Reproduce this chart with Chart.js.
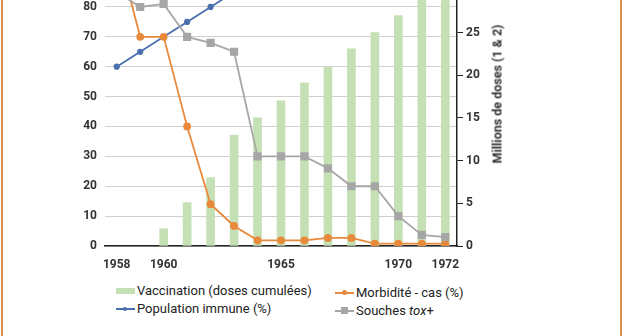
<!DOCTYPE html>
<html>
<head>
<meta charset="utf-8">
<script src="https://cdn.jsdelivr.net/npm/chart.js@4.4.1/dist/chart.umd.min.js"></script>
<style>
    body { margin: 0; background: #fff; width: 625px; height: 336px; overflow: hidden; position: relative; font-family: Roboto, sans-serif; }
    #wrap { position: absolute; left: 0; top: -68px; width: 625px; height: 344px; }
    .edge { position: absolute; top: 0; width: 2px; height: 336px; background: #d8904a; }
    .leg { position: absolute; font-size: 13px; color: #222; white-space: nowrap; line-height: 16px; }
    .sym { display: inline-block; position: relative; width: 19px; height: 16px; vertical-align: top; margin-right: 2px; }
    .sym .ln { position: absolute; left: 0; right: 0; top: 7px; height: 2px; }
    .sym .mk { position: absolute; }
    #titreDroite { position: absolute; left: 497px; top: 94px; transform: translate(-50%, -50%) rotate(-90deg);
        font-size: 12.5px; font-weight: bold; color: #333; white-space: nowrap; }
</style>
</head>
<body>
<div class="edge" style="left:1px"></div>
<div class="edge" style="left:620px"></div>
<div id="wrap"><canvas id="graphic-diphterie"></canvas></div>
<div id="titreDroite">Millions de doses (1 &amp; 2)</div>

<div class="leg" style="left:116px; top:283px">
    <span class="sym"><span class="ln" style="top:5px;height:6px;background:#c5e0b4"></span></span>Vaccination (doses cumulées)
</div>
<div class="leg" style="left:116px; top:301px">
    <span class="sym"><span class="ln" style="background:#4a6fae"></span><span class="mk" style="left:7px;top:6px;width:4px;height:4px;border-radius:2px;background:#4a6fae"></span></span>Population immune (%)
</div>
<div class="leg" style="left:335px; top:285px">
    <span class="sym"><span class="ln" style="background:#e8893c"></span><span class="mk" style="left:7px;top:5px;width:5px;height:5px;border-radius:3px;background:#e8893c"></span></span>Morbidité - cas (%)
</div>
<div class="leg" style="left:335px; top:303px">
    <span class="sym"><span class="ln" style="background:#a6a6a6"></span><span class="mk" style="left:6px;top:4px;width:7px;height:7px;background:#a6a6a6"></span></span>Souches <i>tox</i>+
</div>

<script>
const years = ['1958', '1959', '1960', '1961', '1962', '1963', '1964', '1965', '1966', '1967', '1968', '1969', '1970', '1971', '1972'];
const shownYears = ['1958', '1960', '1965', '1970', '1972'];

// millions de doses (axe droit)
const vaccination = [null, null, 2.0, 5.1, 8.0, 13.0, 15.0, 17.0, 19.1, 21.0, 23.1, 25.0, 27.0, 29.0, 31.0];
// pourcentages (axe gauche)
const populationImmune = [60, 65, 70, 75, 80, 85, 88, 90, 92, 93, 94, 95, 96, 97, 98];
const morbidite = [100, 70, 70, 40, 14, 6.7, 1.9, 1.9, 1.9, 2.7, 2.7, 0.8, 0.8, 0.8, 0.8];
const souchesTox = [85, 80, 81, 70, 68, 65, 30, 30, 30, 26, 20, 20, 10, 3.7, 3];

const leftTicks = [0, 10, 20, 30, 40, 50, 60, 70, 80, 90, 100];
const rightTicks = [0, 5, 10, 15, 20, 25, 30, 35];

const tickFont = { family: 'Roboto', size: 12, weight: 'bold' };

const ctx = document.getElementById('graphic-diphterie');

var chartDiphterie = new Chart(ctx, {
    type: 'bar',
    data: {
        labels: years,
        datasets: [
            {
                label: 'Vaccination (doses cumulées)',
                data: vaccination,
                backgroundColor: '#c5e0b4',
                barThickness: 8,
                yAxisID: 'y1',
                order: 10
            },
            {
                label: 'Population immune (%)',
                type: 'line',
                data: populationImmune,
                borderColor: '#4a6fae',
                backgroundColor: '#4a6fae',
                borderWidth: 1.8,
                pointRadius: 2.2,
                yAxisID: 'y',
                order: 3
            },
            {
                label: 'Morbidité - cas (%)',
                type: 'line',
                data: morbidite,
                borderColor: '#e8893c',
                backgroundColor: '#e8893c',
                borderWidth: 1.8,
                pointRadius: 3,
                yAxisID: 'y',
                order: 2
            },
            {
                label: 'Souches tox+',
                type: 'line',
                data: souchesTox,
                borderColor: '#a6a6a6',
                backgroundColor: '#a6a6a6',
                borderWidth: 1.8,
                pointStyle: 'rect',
                pointRadius: 4.5,
                yAxisID: 'y',
                order: 1
            }
        ]
    },
    options: {
        responsive: true,
        maintainAspectRatio: false,
        animation: false,
        layout: { padding: { top: 10, right: 118, bottom: 0, left: 0 } },
        plugins: {
            legend: { display: false },
            tooltip: { enabled: false }
        },
        scales: {
            x: {
                grid: { display: false, drawTicks: false },
                border: { display: true, color: '#222', width: 1.5 },
                ticks: {
                    autoSkip: false,
                    maxRotation: 0,
                    padding: 12,
                    color: '#333',
                    font: tickFont,
                    callback: function (v, i) {
                        return shownYears.includes(years[i]) ? years[i] : '';
                    }
                },
                afterFit: function (s) { s.height = 30; }
            },
            y: {
                position: 'left',
                min: 0,
                max: 100,
                afterBuildTicks: function (s) { s.ticks = leftTicks.map(v => ({ value: v })); },
                grid: { color: '#cfcfcf', lineWidth: 1, drawTicks: false },
                border: { display: false },
                ticks: { padding: 8, color: '#333', font: tickFont },
                afterFit: function (s) { s.width = 105; }
            },
            y1: {
                position: 'right',
                min: 0,
                max: 35,
                afterBuildTicks: function (s) { s.ticks = rightTicks.map(v => ({ value: v })); },
                grid: { drawOnChartArea: false, color: '#222', tickLength: 6 },
                border: { display: true, color: '#222', width: 1.5 },
                ticks: { padding: 3, color: '#333', font: tickFont },
                afterFit: function (s) { s.width = 50; }
            }
        }
    }
});
</script>
</body>
</html>
